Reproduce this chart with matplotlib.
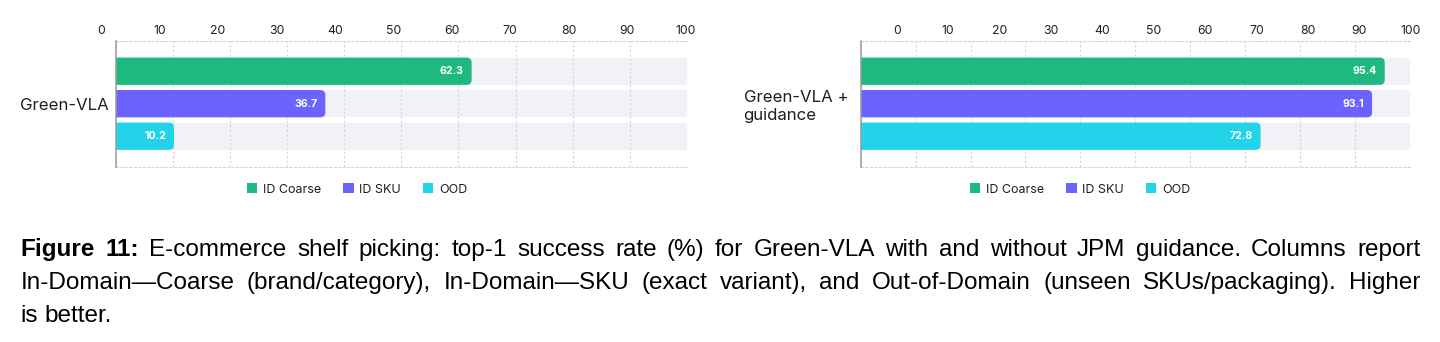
import matplotlib
matplotlib.use("Agg")
import matplotlib.pyplot as plt
import matplotlib.transforms as mtransforms
from matplotlib.patches import FancyBboxPatch, Rectangle
import numpy as np

# ---------------- data ----------------
series = ["ID Coarse", "ID SKU", "OOD"]
colors = ["#1db980", "#6c63ff", "#22d3ea"]
left_model = "Green-VLA"
left_values = [62.3, 36.7, 10.2]
right_model = "Green-VLA +\nguidance"
right_values = [95.4, 93.1, 72.8]
tick_labels = ["0", "10", "20", "30", "40", "50", "60", "70", "80", "90", "100"]
caption_lines = [
    "Figure 11: E-commerce shelf picking: top-1 success rate (%) for Green-VLA with and without JPM guidance. Columns report",
    "In-Domain\u2014Coarse (brand/category), In-Domain\u2014SKU (exact variant), and Out-of-Domain (unseen SKUs/packaging). Higher",
    "is better.",
]

W, H = 1440, 342
fig = plt.figure(figsize=(W / 100, H / 100), dpi=100)
CH = "Inter"
TXT = "#1f1f1f"
BAND = "#f1f2f7"
GRID = "#d4d4d8"


def px_rect(x0, x1, ytop, ybot):
    return [x0 / W, 1 - ybot / H, (x1 - x0) / W, (ybot - ytop) / H]


def panel(rect, model, values, label_pos, ylab_pad, legend_cx):
    ax = fig.add_axes(rect)
    step = 0.3
    h = 0.252
    offs = [-step, 0.0, step]
    ax.set_xlim(0, 100)
    ax.set_ylim(0.5815, -0.5815)

    # background bands
    ax.barh(offs, [100] * 3, height=h, left=0, color=BAND, zorder=0.3)

    # pixel scales for rounding
    fig.canvas.draw()
    p0 = ax.transData.transform((0, 0))
    p1 = ax.transData.transform((1, 1))
    xpx = abs(p1[0] - p0[0])
    ypx = abs(p1[1] - p0[1])
    rad_px = 5.0
    r = rad_px / xpx
    asp = (rad_px / ypx) / r

    for v, y, c in zip(values, offs, colors):
        patch = FancyBboxPatch((-6, y - h / 2), v + 6, h,
                               boxstyle=f"round,pad=0,rounding_size={r}",
                               mutation_aspect=asp, fc=c, ec="none",
                               zorder=2, clip_on=True)
        ax.add_patch(patch)
        ax.annotate(f"{v:.1f}", xy=(v, y), xytext=(-8, 0),
                    textcoords="offset pixels", ha="right", va="center",
                    color="white", fontweight="bold", fontsize=7.6,
                    family=CH, zorder=3)

    # grid
    ax.set_xticks(np.arange(0, 101, 10))
    ax.set_axisbelow(True)
    ax.grid(axis="x", color=GRID, lw=0.8, ls=(0, (2.0, 2.0)))
    ax.tick_params(axis="x", length=0, labelbottom=False, labeltop=False)

    # top tick labels (as drawn in the reference)
    trans = mtransforms.blended_transform_factory(ax.transData, ax.transAxes)
    for pos, lab in zip(label_pos, tick_labels):
        ax.text(pos, 1.0 + 3.5 / (rect[3] * H), lab, transform=trans,
                ha="center", va="bottom", fontsize=8.8, family=CH,
                color=TXT, clip_on=False)

    # spines
    for s in ("top", "bottom"):
        ax.spines[s].set_color(GRID)
        ax.spines[s].set_linestyle((0, (2.0, 2.0)))
        ax.spines[s].set_linewidth(0.8)
    ax.spines["right"].set_visible(False)
    ax.spines["left"].set_color("#9a9a9a")
    ax.spines["left"].set_linewidth(1.1)
    ax.spines["left"].set_zorder(4)

    ax.set_yticks([0])
    ax.set_yticklabels([model], fontsize=12.1, family=CH, color=TXT)
    for t in ax.get_yticklabels():
        t.set_multialignment("left")
    ax.tick_params(axis="y", length=0, pad=ylab_pad)

    handles = [Rectangle((0, 0), 1, 1, fc=c, ec="none") for c in colors]
    ax.legend(handles, series, loc="center",
              bbox_to_anchor=(legend_cx / W, 1 - 189.5 / H),
              bbox_transform=fig.transFigure, ncol=3, frameon=False,
              prop={"family": CH, "size": 9}, handlelength=0.85,
              handleheight=0.85, handletextpad=0.45, columnspacing=1.75,
              labelcolor=TXT)
    return ax


left_lab_pos = np.linspace(-2.57, 99.75, 11)
right_lab_pos = np.linspace(6.55, 100.1, 11)
panel(px_rect(115.7, 687.0, 40.7, 166.7), left_model, left_values,
      left_lab_pos, 4.8, 357)
panel(px_rect(860.7, 1410.0, 40.7, 166.7), right_model, right_values,
      right_lab_pos, 9.0, 1080)

# ---------------- caption (justified) ----------------
CAP = "Liberation Sans"
cap_fs = 17.5
x_left, x_right = 20.5, 1420.5
baselines = [256.0, 289.0, 321.5]
renderer = fig.canvas.get_renderer()

for li, line in enumerate(caption_lines):
    words = line.split(" ")
    texts = []
    for wi, w in enumerate(words):
        bold = (li == 0 and wi < 2)
        t = fig.text(0, 1 - baselines[li] / H, w, fontsize=cap_fs,
                     fontweight="bold" if bold else "normal", family=CAP,
                     va="baseline", ha="left", color="black")
        texts.append(t)
    widths = [t.get_window_extent(renderer).width for t in texts]
    if li < len(caption_lines) - 1:
        gap = (x_right - x_left - sum(widths)) / (len(texts) - 1)
    else:
        gap = cap_fs * 100 / 72 * 0.278
    x = x_left
    for t, w in zip(texts, widths):
        t.set_x(x / W)
        x += w + gap

fig.savefig("out.png", dpi=100)
